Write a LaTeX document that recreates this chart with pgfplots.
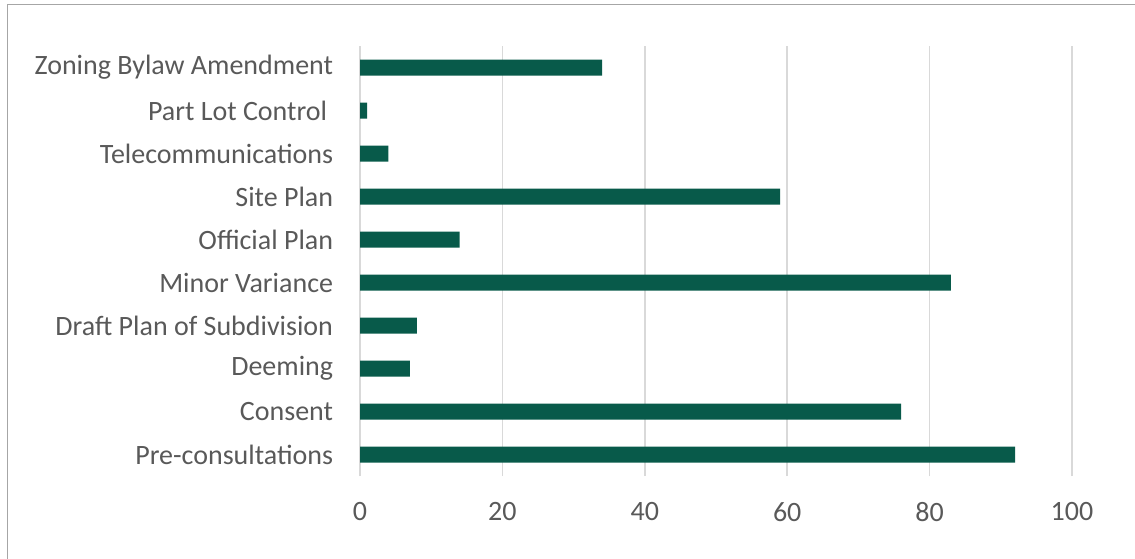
\documentclass[border=0pt]{standalone}
\usepackage{pgfplots}
\pgfplotsset{compat=1.18}
\usepackage{fontspec}
\setmainfont{Carlito}

\definecolor{barcol}{HTML}{085A4A}
\definecolor{txtcol}{HTML}{595959}
\definecolor{gridcol}{HTML}{D9D9D9}
\definecolor{framecol}{HTML}{A6A6A6}

\begin{document}
\begin{tikzpicture}
    % page is 1135 x 558 px, 1 px = 0.75 pt
    \useasboundingbox (0pt,0pt) rectangle (851.25pt,-418.5pt);
    \draw[framecol, line width=0.9pt] (5.4pt,-420pt) -- (5.4pt,-3.4pt) -- (853pt,-3.4pt);
    \begin{axis}[
            at={(270pt,-357pt)}, anchor=south west,
            scale only axis,
            width=534pt, height=322.5pt,
            xbar, bar width=12pt,
            xmin=0, xmax=100,
            ymin=-0.5, ymax=9.5,
            xtick={0,20,...,100},
            ytick={0,...,9},
            yticklabels={Pre-consultations, Consent, Deeming, Draft Plan of Subdivision,
                         Minor Variance, Official Plan, Site Plan, Telecommunications,
                         Part Lot Control\hspace*{4.5pt}, Zoning Bylaw Amendment},
            major tick length=0pt,
            axis line style={draw=none},
            xmajorgrids,
            major grid style={gridcol, line width=1.3pt},
            tick label style={font=\fontsize{21}{25}\selectfont, text=txtcol},
            /pgf/number format/assume math mode=true,
            yticklabel style={inner sep=0pt, anchor=east, xshift=-20pt},
            xticklabel style={inner sep=0pt, anchor=north, yshift=-19.5pt},
        ]
        \addplot[draw=none, fill=barcol] coordinates {
            (92,0) (76,1) (7,2) (8,3) (83,4) (14,5) (59,6) (4,7) (1,8) (34,9)
        };
    \end{axis}
\end{tikzpicture}
\end{document}
